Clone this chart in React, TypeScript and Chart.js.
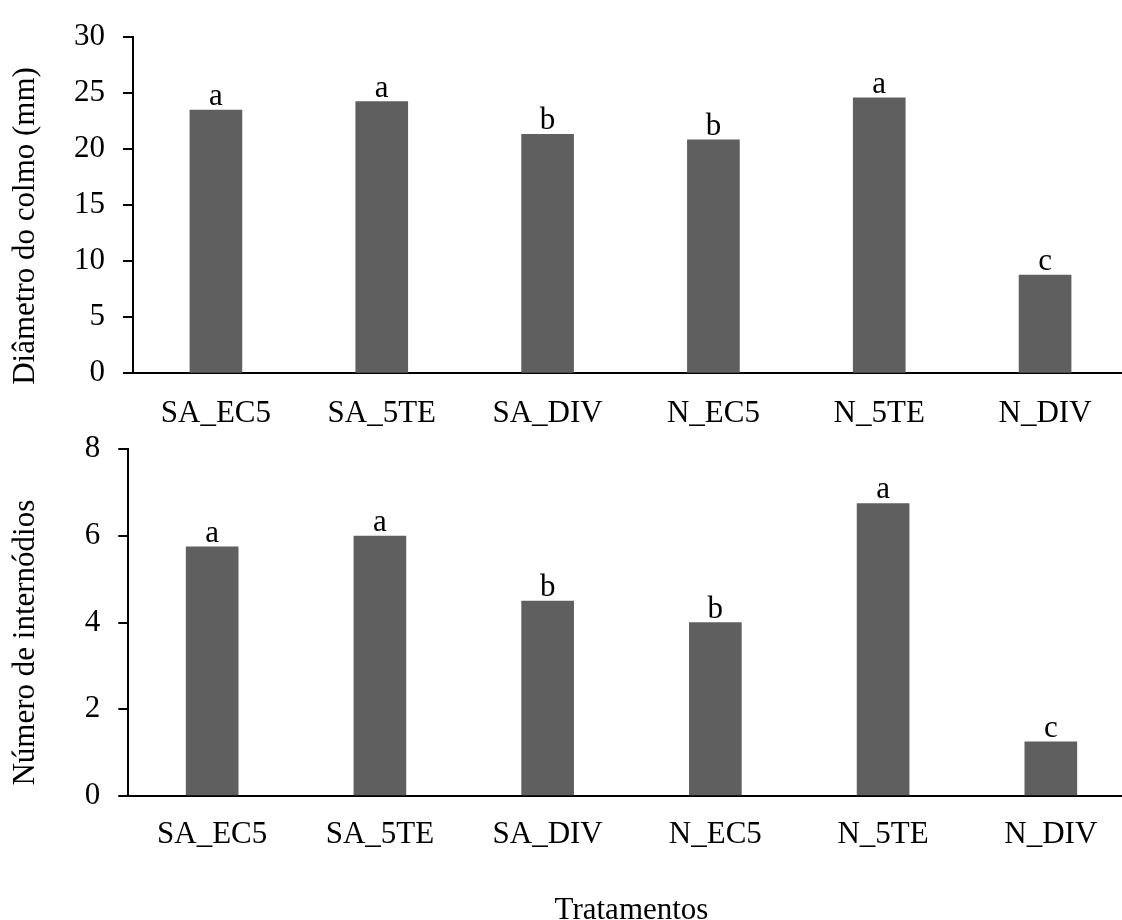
import React, { useEffect, useRef } from "react";
import { Chart, registerables } from "chart.js";

Chart.register(...registerables);

// ---- data ----
const categories = ["SA_EC5", "SA_5TE", "SA_DIV", "N_EC5", "N_5TE", "N_DIV"];
const diametroValues = [23.45, 24.2, 21.3, 20.8, 24.55, 8.75];
const diametroLetters = ["a", "a", "b", "b", "a", "c"];
const internodiosValues = [5.75, 6.0, 4.5, 4.0, 6.75, 1.25];
const internodiosLetters = ["a", "a", "b", "b", "a", "c"];
const diametroAxis = { min: 0, max: 30, step: 5 };
const internodiosAxis = { min: 0, max: 8, step: 2 };
const diametroTitle = "Diâmetro do colmo (mm)";
const internodiosTitle = "Número de internódios";
const xTitle = "Tratamentos";

const FONT = "'Liberation Serif', 'Times New Roman', serif";
const FS = 31;
const BAR_COLOR = "#5f5f5f";

function makeAnnotPlugin(letters: string[], yTitle: string, titleX: number, titleShift: number) {
  return {
    id: "annot",
    afterDraw(chart: any) {
      const ctx = chart.ctx;
      const meta = chart.getDatasetMeta(0);
      ctx.save();
      ctx.fillStyle = "#000";
      ctx.font = `${FS}px ${FONT}`;
      ctx.textAlign = "center";
      ctx.textBaseline = "alphabetic";
      meta.data.forEach((el: any, i: number) => {
        ctx.fillText(letters[i], el.x, el.y - 5);
      });
      const ca = chart.chartArea;
      ctx.translate(titleX, (ca.top + ca.bottom) / 2 + titleShift);
      ctx.rotate(-Math.PI / 2);
      ctx.textBaseline = "middle";
      ctx.fillText(yTitle, 0, 0);
      ctx.restore();
    },
  };
}

function makeConfig(opts: {
  values: number[];
  letters: string[];
  axis: { min: number; max: number; step: number };
  yTitle: string;
  padTop: number;
  padRight: number;
  yWidth: number;
  xHeight: number;
  tickPad: number;
  titleShift: number;
  showXTitle: boolean;
}): any {
  return {
    type: "bar",
    data: {
      labels: categories,
      datasets: [
        {
          data: opts.values,
          backgroundColor: BAR_COLOR,
          borderWidth: 0,
          barThickness: 52,
        },
      ],
    },
    options: {
      animation: false,
      responsive: false,
      devicePixelRatio: 1,
      layout: { padding: { top: opts.padTop, right: opts.padRight, bottom: 0, left: 0 } },
      plugins: { legend: { display: false }, tooltip: { enabled: false } },
      scales: {
        x: {
          grid: { display: false, drawTicks: false },
          border: { display: true, color: "#000", width: 2 },
          ticks: {
            color: "#000",
            font: { family: FONT, size: FS },
            padding: opts.tickPad,
            autoSkip: false,
            maxRotation: 0,
          },
          title: {
            display: opts.showXTitle,
            text: xTitle,
            color: "#000",
            font: { family: FONT, size: FS },
            padding: { top: 0, bottom: 31 },
          },
          afterFit: (s: any) => {
            s.height = opts.xHeight;
          },
        },
        y: {
          min: opts.axis.min,
          max: opts.axis.max,
          ticks: {
            stepSize: opts.axis.step,
            color: "#000",
            font: { family: FONT, size: FS },
            padding: 18,
          },
          grid: {
            display: true,
            drawOnChartArea: false,
            drawTicks: true,
            tickLength: 10,
            color: "#000",
            lineWidth: 2,
          },
          border: { display: true, color: "#000", width: 2 },
          afterFit: (s: any) => {
            s.width = opts.yWidth;
          },
        },
      },
    },
    plugins: [makeAnnotPlugin(opts.letters, opts.yTitle, 25.5, opts.titleShift)],
  };
}

export default function App() {
  const topRef = useRef<HTMLCanvasElement | null>(null);
  const botRef = useRef<HTMLCanvasElement | null>(null);

  useEffect(() => {
    const c1 = new Chart(
      topRef.current as HTMLCanvasElement,
      makeConfig({
        values: diametroValues,
        letters: diametroLetters,
        axis: diametroAxis,
        yTitle: diametroTitle,
        padTop: 29.3,
        padRight: 12,
        yWidth: 133,
        xHeight: 86.7,
        tickPad: 22,
        titleShift: 21,
        showXTitle: false,
      })
    );
    const c2 = new Chart(
      botRef.current as HTMLCanvasElement,
      makeConfig({
        values: internodiosValues,
        letters: internodiosLetters,
        axis: internodiosAxis,
        yTitle: internodiosTitle,
        padTop: 49.3,
        padRight: 5.3,
        yWidth: 128.3,
        xHeight: 164,
        tickPad: 20,
        titleShift: 20,
        showXTitle: true,
      })
    );
    return () => {
      c1.destroy();
      c2.destroy();
    };
  }, []);

  return (
    <div
      style={{
        position: "fixed",
        left: 0,
        top: 0,
        width: 1122,
        height: 920,
        overflow: "hidden",
        background: "#fff",
      }}
    >
      <canvas
        ref={topRef}
        width={1140}
        height={460}
        style={{ position: "absolute", left: 0, top: 0, width: 1140, height: 460, display: "block" }}
      />
      <canvas
        ref={botRef}
        width={1140}
        height={560}
        style={{ position: "absolute", left: 0, top: 400, width: 1140, height: 560, display: "block" }}
      />
    </div>
  );
}
